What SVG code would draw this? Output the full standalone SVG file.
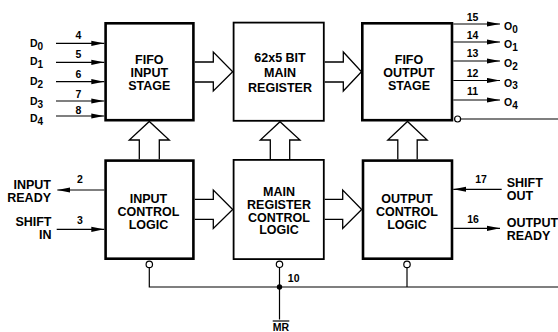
<svg xmlns="http://www.w3.org/2000/svg" width="558" height="332" viewBox="0 0 558 332">
<style>
.box{fill:#fff;stroke:#000}
.thick{stroke-width:2.6}
.thin{stroke-width:1.8}
.bt{font-family:"Liberation Sans",Arial,sans-serif;font-weight:bold;font-size:12.5px;text-anchor:middle;fill:#000}
.lbl{font-family:"Liberation Sans",Arial,sans-serif;font-weight:bold;font-size:12.5px;fill:#000}
.pin{font-family:"Liberation Sans",Arial,sans-serif;font-weight:bold;font-size:10.5px;fill:#000}
.num{font-family:"Liberation Sans",Arial,sans-serif;font-weight:bold;font-size:10.5px;text-anchor:middle;fill:#000}
.w{fill:none;stroke:#000;stroke-width:1.2}
.wa{fill:none;stroke:#000;stroke-width:1.2;marker-end:url(#ah)}
.hol{fill:#fff;stroke:#000;stroke-width:1.3;stroke-linejoin:miter}
.bub{fill:#fff;stroke:#000;stroke-width:1.2}
</style>
<defs>
<marker id="ah" markerUnits="userSpaceOnUse" viewBox="0 0 13 6" markerWidth="13" markerHeight="6" refX="13" refY="3" orient="auto">
<path d="M0,0.4 L13,3 L0,5.6 Z" fill="#000"/>
</marker>
</defs>

<g id="connectors">
<!-- hollow data arrows -->
<polyline class="hol" points="194.7,62 213.3,62 213.3,52 232.7,71.7 213.3,91 213.3,82 194.7,82"/>
<polyline class="hol" points="324.7,62 343.3,62 343.3,52 361.5,71.7 343.3,91 343.3,82 324.7,82"/>
<polyline class="hol" points="194.7,199.3 213.3,199.3 213.3,190 232.7,209.5 213.3,228.5 213.3,219.3 194.7,219.3"/>
<polyline class="hol" points="324.7,199.3 342.7,199.3 342.7,190 361.7,209.5 342.7,228.5 342.7,219.3 324.7,219.3"/>
<polyline class="hol" points="139.3,159.3 139.3,140 129.3,140 149.3,121.5 169.3,140 159.3,140 159.3,159.3"/>
<polyline class="hol" points="270.3,159.3 270.3,140 260.3,140 280,121.7 300,140 289.7,140 289.7,159.3"/>
<polyline class="hol" points="397.8,159.3 397.8,140 387.8,140 407.5,121.5 427.2,140 417.2,140 417.2,159.3"/>

<!-- data inputs -->
<line class="wa" x1="56" y1="43.3" x2="104.3" y2="43.3"/>
<line class="wa" x1="56" y1="62.3" x2="104.3" y2="62.3"/>
<line class="wa" x1="56" y1="81.7" x2="104.3" y2="81.7"/>
<line class="wa" x1="56" y1="101" x2="104.3" y2="101"/>
<line class="wa" x1="56" y1="116" x2="104.3" y2="116"/>

<!-- data outputs -->
<line class="wa" x1="453.3" y1="24" x2="500" y2="24"/>
<line class="wa" x1="453.3" y1="42" x2="500" y2="42"/>
<line class="wa" x1="453.3" y1="61" x2="500" y2="61"/>
<line class="wa" x1="453.3" y1="80.5" x2="500" y2="80.5"/>
<line class="wa" x1="453.3" y1="100" x2="500" y2="100"/>

<!-- output enable bubble -->
<circle class="bub" cx="457.6" cy="119" r="3"/>
<line class="w" x1="460.6" y1="119" x2="558" y2="119"/>

<!-- control signals -->
<line class="wa" x1="104.3" y1="190" x2="57.3" y2="190"/>
<line class="wa" x1="56.7" y1="229.3" x2="104.3" y2="229.3"/>
<line class="wa" x1="501.7" y1="189.3" x2="453.3" y2="189.3"/>
<line class="wa" x1="453.3" y1="228.3" x2="500" y2="228.3"/>

<!-- master reset -->
<circle class="bub" cx="149.3" cy="264.4" r="3.2"/>
<circle class="bub" cx="279.5" cy="264.3" r="3.2"/>
<circle class="bub" cx="407" cy="264.4" r="3.2"/>
<polyline class="w" points="149.3,267.6 149.3,287 558,287"/>
<line class="w" x1="279.5" y1="267.5" x2="279.5" y2="319.5"/>
<line class="w" x1="407" y1="267.6" x2="407" y2="287"/>
<circle cx="279.5" cy="287" r="2.7" fill="#000"/>
</g>

<g id="fifo-input-stage">
<rect class="box thick" x="105.6" y="23.3" width="87.8" height="96.9"/>
<text class="bt" x="149.3" y="64">FIFO</text>
<text class="bt" x="149.3" y="77">INPUT</text>
<text class="bt" x="149.3" y="90">STAGE</text>
</g>

<g id="main-register">
<rect class="box thin" x="233.6" y="22.6" width="90.2" height="98.2"/>
<text class="bt" x="280" y="62">62x5 BIT</text>
<text class="bt" x="280" y="77">MAIN</text>
<text class="bt" x="280" y="92">REGISTER</text>
</g>

<g id="fifo-output-stage">
<rect class="box thick" x="362.3" y="23.3" width="89.7" height="96.9"/>
<text class="bt" x="409" y="64">FIFO</text>
<text class="bt" x="409" y="77">OUTPUT</text>
<text class="bt" x="409" y="90">STAGE</text>
</g>

<g id="input-control-logic">
<rect class="box thick" x="105.6" y="160.6" width="87.8" height="98.1"/>
<text class="bt" x="148.5" y="203">INPUT</text>
<text class="bt" x="148.5" y="216">CONTROL</text>
<text class="bt" x="148.5" y="228.5">LOGIC</text>
</g>

<g id="main-register-control-logic">
<rect class="box thin" x="233.6" y="159.9" width="90.2" height="99.2"/>
<text class="bt" x="279" y="195.5">MAIN</text>
<text class="bt" x="279" y="208.5">REGISTER</text>
<text class="bt" x="279" y="221.5">CONTROL</text>
<text class="bt" x="279" y="234.3">LOGIC</text>
</g>

<g id="output-control-logic">
<rect class="box thick" x="363" y="160.6" width="89" height="98.1"/>
<text class="bt" x="407" y="202.7">OUTPUT</text>
<text class="bt" x="407" y="216">CONTROL</text>
<text class="bt" x="407" y="228.5">LOGIC</text>
</g>

<g id="labels">
<text class="pin" x="30" y="46.7" font-size="11">D<tspan font-size="10" dy="3">0</tspan></text>
<text class="pin" x="30" y="65" font-size="11">D<tspan font-size="10" dy="3">1</tspan></text>
<text class="pin" x="30" y="85" font-size="11">D<tspan font-size="10" dy="3">2</tspan></text>
<text class="pin" x="30" y="104.5" font-size="11">D<tspan font-size="10" dy="3">3</tspan></text>
<text class="pin" x="30" y="121.8" font-size="11">D<tspan font-size="10" dy="3">4</tspan></text>
<text class="num" x="78.3" y="39">4</text>
<text class="num" x="78.3" y="58.4">5</text>
<text class="num" x="78.3" y="78.3">6</text>
<text class="num" x="78.3" y="97.7">7</text>
<text class="num" x="78.3" y="113.5">8</text>

<text class="num" x="472.5" y="20.5">15</text>
<text class="num" x="472.5" y="38.5">14</text>
<text class="num" x="472.5" y="57">13</text>
<text class="num" x="472.5" y="76.5">12</text>
<text class="num" x="472.5" y="95">11</text>
<text class="pin" x="504" y="30" font-size="11">O<tspan font-size="10" dy="2.5">0</tspan></text>
<text class="pin" x="504" y="48" font-size="11">O<tspan font-size="10" dy="2.5">1</tspan></text>
<text class="pin" x="504" y="67" font-size="11">O<tspan font-size="10" dy="2.5">2</tspan></text>
<text class="pin" x="504" y="86.5" font-size="11">O<tspan font-size="10" dy="2.5">3</tspan></text>
<text class="pin" x="504" y="106" font-size="11">O<tspan font-size="10" dy="2.5">4</tspan></text>

<text class="lbl" x="51" y="189.3" text-anchor="end">INPUT</text>
<text class="lbl" x="51" y="202" text-anchor="end">READY</text>
<text class="num" x="80" y="183">2</text>
<text class="lbl" x="51.5" y="226" text-anchor="end">SHIFT</text>
<text class="lbl" x="51.5" y="238.7" text-anchor="end">IN</text>
<text class="num" x="80" y="224">3</text>

<text class="num" x="481" y="183">17</text>
<text class="lbl" x="506.7" y="186.5">SHIFT</text>
<text class="lbl" x="506.7" y="199.5">OUT</text>
<text class="num" x="473" y="223">16</text>
<text class="lbl" x="506.7" y="227.3">OUTPUT</text>
<text class="lbl" x="506.7" y="240">READY</text>

<text class="num" x="293.7" y="282.3">10</text>
<line class="w" x1="272.7" y1="321" x2="289.3" y2="321"/>
<text class="num" x="281" y="330.5">MR</text>
</g>
</svg>
